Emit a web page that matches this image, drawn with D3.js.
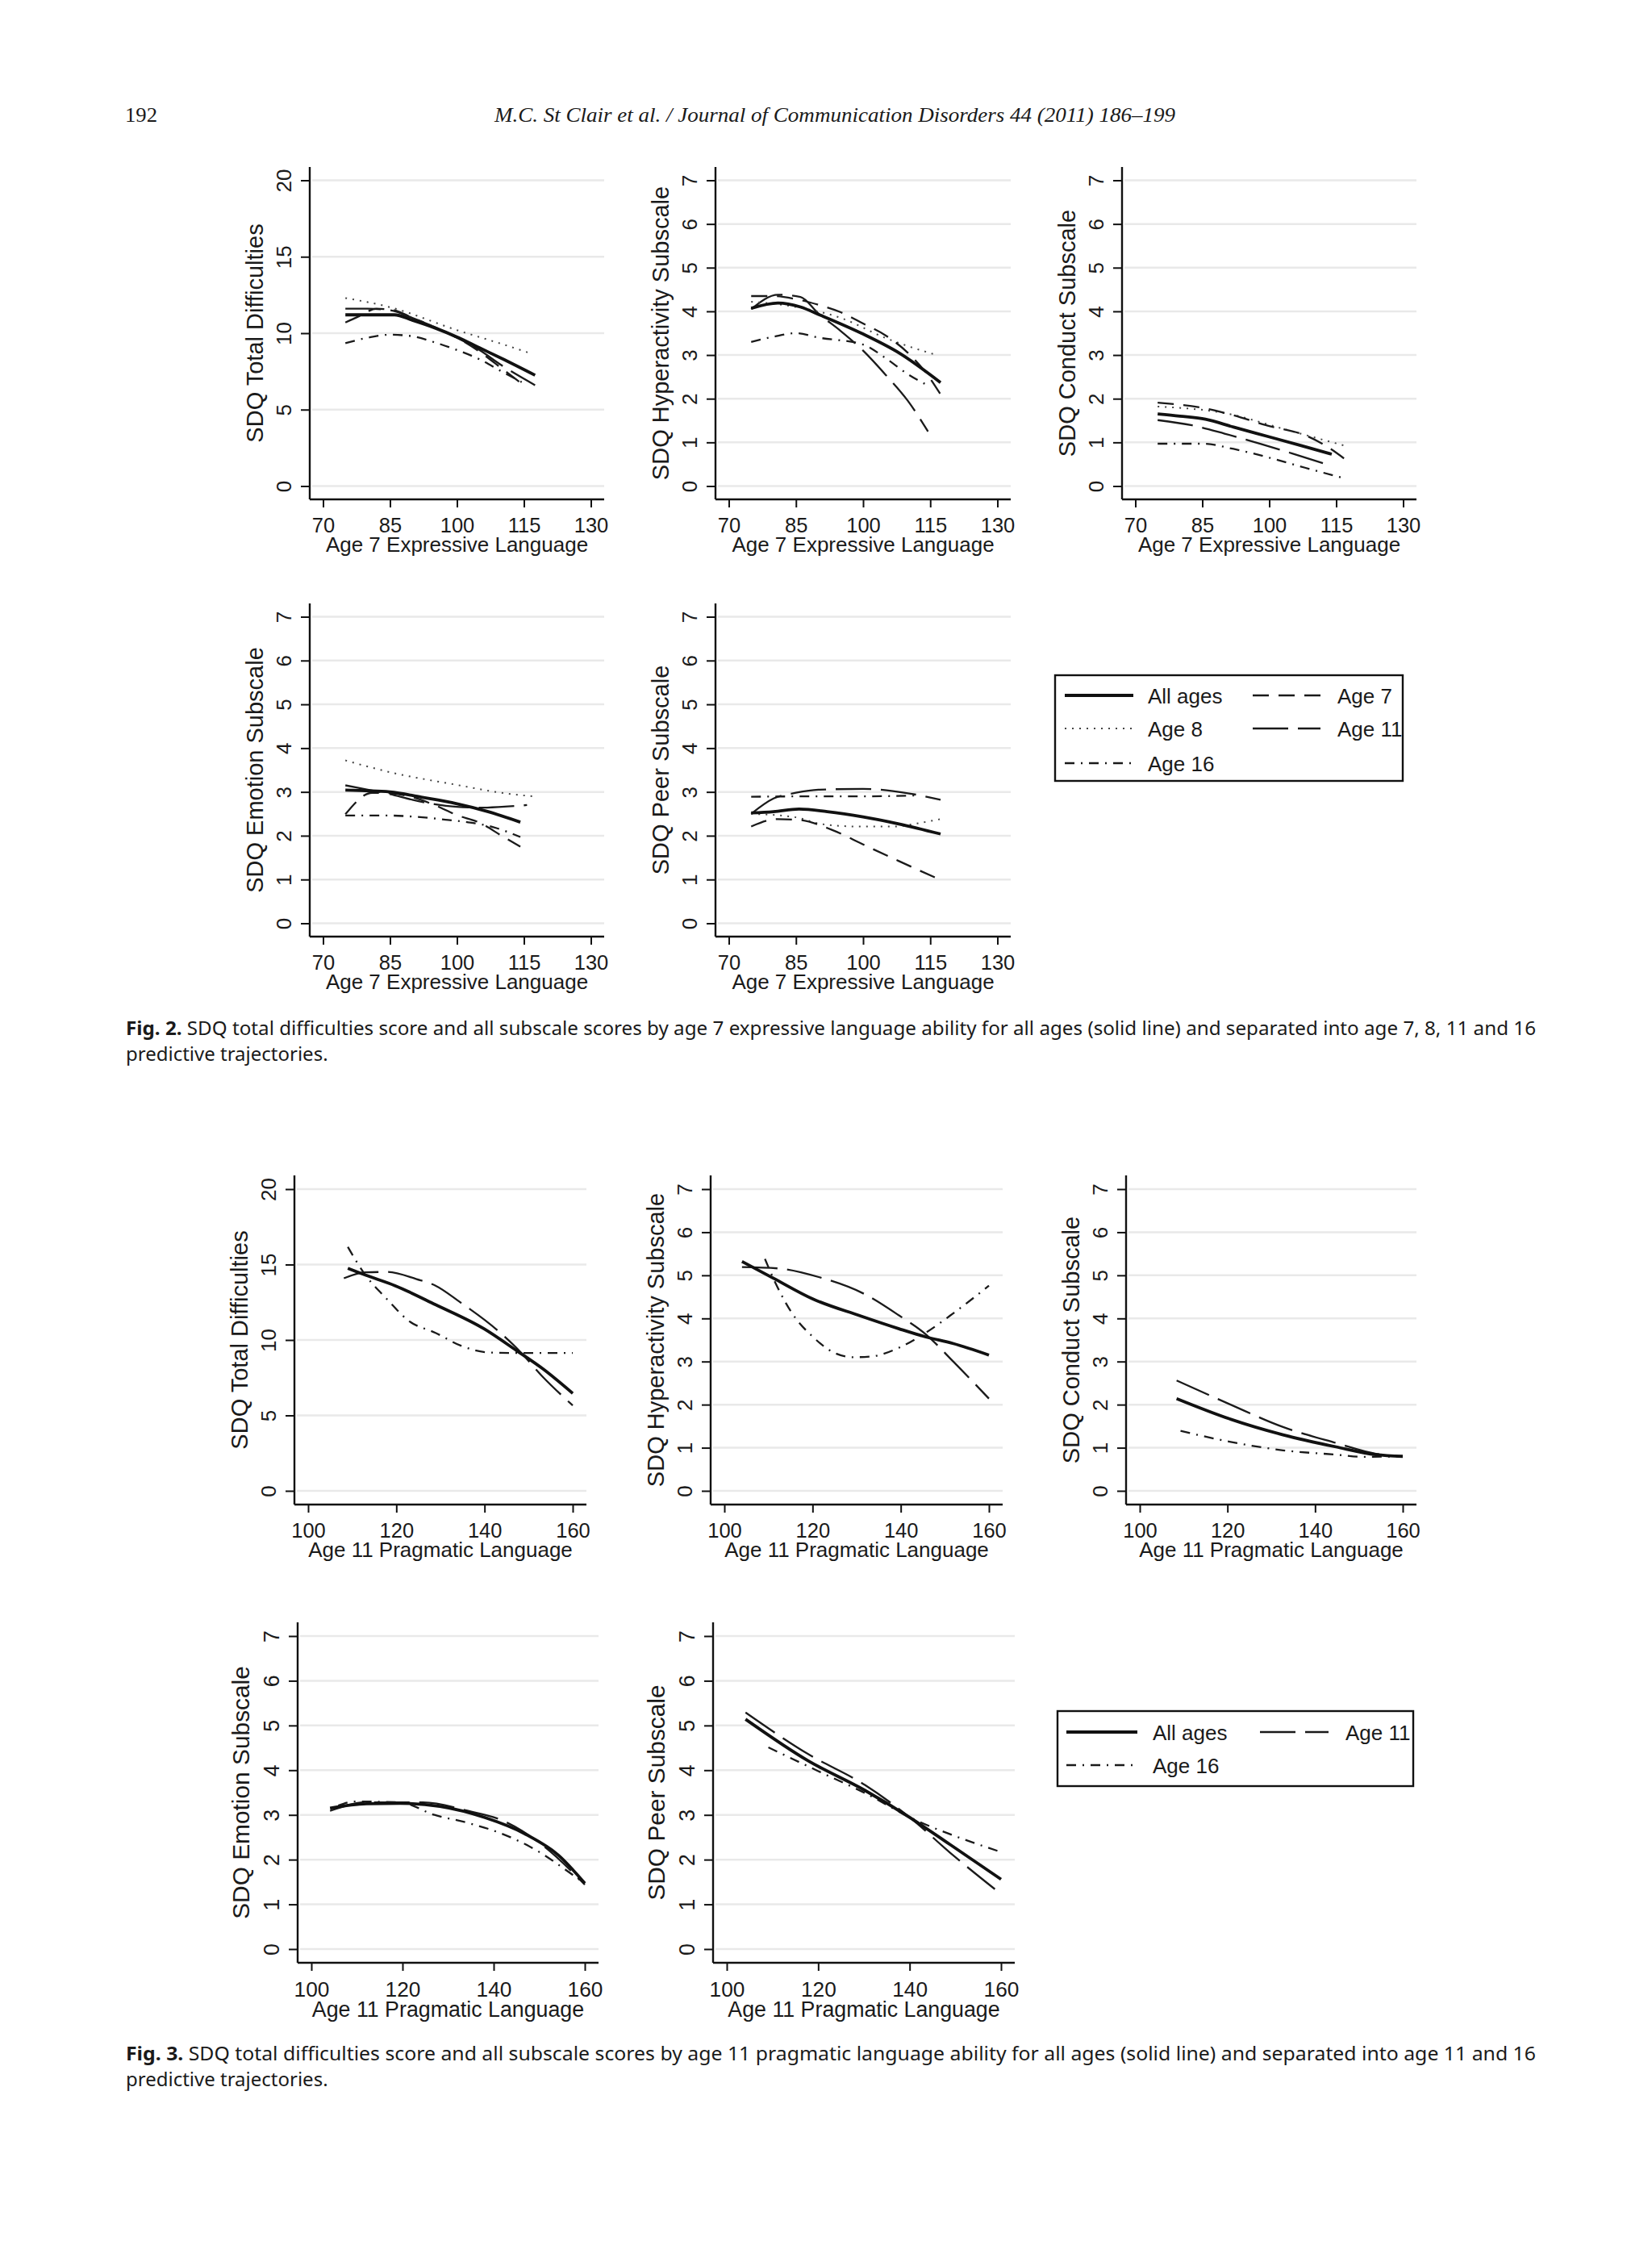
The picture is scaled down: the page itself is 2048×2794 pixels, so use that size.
<!DOCTYPE html>
<html>
<head>
<meta charset="utf-8">
<script src="https://cdn.jsdelivr.net/npm/d3@7"></script>
<style>
  body { margin: 0; background: #fff; }
  text { font-family: "Liberation Sans", Arial, sans-serif; fill: #1a1a1a; }
</style>
</head>
<body>
<script>
/*
*   SDQ scores by age 7 expressive and age 11 pragmatic language
*   values (Figs. 2 and 3)
*/

// tick labels
var fig2Xticks = [70, 85, 100, 115, 130];
var fig3Xticks = [100, 120, 140, 160];
var totalTicks = [0, 5, 10, 15, 20];
var subTicks = [0, 1, 2, 3, 4, 5, 6, 7];

// series names
var fig2Series = ["All ages", "Age 7", "Age 8", "Age 11", "Age 16"];
var fig3Series = ["All ages", "Age 11", "Age 16"];

// ---- Fig. 2 : [expressive language, score] ----
var f2TotalAll = [[75,11.2],[80,11.2],[86,11.2],[90,10.85],[95,10.35],[100,9.75],[105,9.05],[110,8.35],[117.5,7.25]];
var f2TotalA7  = [[75,10.7],[78,11.1],[82,11.6],[86,11.5],[90,11.0],[95,10.4],[100,9.7],[105,8.8],[110,7.7],[114.5,6.7]];
var f2TotalA8  = [[75,12.3],[85,11.7],[100,10.2],[110,9.3],[116.3,8.7]];
var f2TotalA11 = [[75,11.6],[80,11.6],[85,11.5],[90,11.0],[95,10.4],[100,9.7],[105,8.9],[110,7.9],[117.5,6.6]];
var f2TotalA16 = [[75,9.35],[80,9.7],[85,9.9],[90,9.8],[95,9.4],[100,8.9],[105,8.3],[110,7.5],[114.5,6.8]];

var f2HypAll = [[75,4.07],[81,4.19],[86,4.1],[90.5,3.91],[100,3.48],[108,3.05],[117.3,2.37]];
var f2HypA7  = [[75,4.35],[80,4.35],[85,4.28],[90,4.15],[95,3.98],[100,3.72],[105,3.45],[110,3.05],[114,2.6],[117.3,2.1]];
var f2HypA8  = [[75,4.22],[85,4.1],[95,3.85],[105,3.39],[116.4,3.0]];
var f2HypA11 = [[75,4.05],[81,4.38],[86,4.33],[90,3.95],[95,3.55],[100,3.1],[105,2.55],[110,1.95],[114.5,1.25]];
var f2HypA16 = [[75,3.3],[80,3.42],[85,3.5],[90,3.4],[100,3.24],[105,2.93],[110,2.56],[114.5,2.3]];

var f2ConAll = [[75,1.65],[80,1.6],[85.7,1.53],[92,1.35],[99.5,1.14],[107,0.93],[114,0.73]];
var f2ConA7  = [[75,1.91],[85,1.79],[92,1.62],[99,1.4],[108.6,1.14],[113,0.9],[117.3,0.59]];
var f2ConA8  = [[75,1.82],[90,1.67],[104.5,1.27],[116.7,0.93]];
var f2ConA11 = [[75,1.51],[82.7,1.39],[90,1.2],[98.3,0.96],[105,0.75],[112.8,0.5]];
var f2ConA16 = [[75,0.97],[85,0.97],[92,0.85],[100,0.65],[108,0.42],[116.7,0.18]];

var f2EmoAll = [[75,3.04],[85,3.0],[92,2.88],[100,2.73],[107,2.55],[114.2,2.31]];
var f2EmoA7  = [[75,2.49],[81,2.98],[85,2.97],[90,2.88],[95,2.7],[100,2.47],[105,2.3],[110,2.0],[114.2,1.75]];
var f2EmoA8  = [[75,3.72],[85,3.45],[100,3.16],[110,2.98],[116.9,2.9]];
var f2EmoA11 = [[75,3.15],[80,3.05],[85,2.95],[90,2.82],[95,2.72],[100,2.66],[105,2.64],[110,2.66],[115.7,2.7]];
var f2EmoA16 = [[75,2.46],[85,2.46],[91,2.43],[98,2.36],[103,2.3],[108,2.2],[114.2,1.97]];

var f2PeerAll = [[75,2.52],[80,2.55],[85.7,2.61],[92,2.55],[100,2.43],[108,2.27],[117.3,2.04]];
var f2PeerA7  = [[75,2.21],[80.9,2.38],[85.7,2.36],[92.9,2.14],[100,1.8],[108,1.42],[117.3,0.99]];
var f2PeerA8  = [[75,2.5],[85,2.42],[90.5,2.27],[99,2.21],[107,2.21],[112,2.28],[117.3,2.38]];
var f2PeerA11 = [[75,2.5],[80,2.85],[85,2.98],[90,3.05],[100,3.07],[110,2.97],[117.3,2.82]];
var f2PeerA16 = [[75,2.89],[90,2.9],[100,2.9],[112.8,2.92]];

// ---- Fig. 3 : [pragmatic language, score] ----
var f3TotalAll = [[109,14.75],[113,14.3],[119.7,13.6],[128.9,12.34],[139.9,10.74],[147.2,9.31],[153.3,8.07],[160,6.46]];
var f3TotalA11 = [[108.1,14.09],[113,14.48],[117.9,14.51],[124.6,14.03],[128.9,13.6],[134.4,12.52],[142.9,10.65],[147.2,9.49],[153.3,7.53],[160,5.66]];
var f3TotalA16 = [[109,16.17],[113,14.3],[117.9,12.7],[122.8,11.27],[128.9,10.47],[135,9.58],[141.1,9.17],[147.2,9.14],[160,9.14]];

var f3HypAll = [[104,5.32],[111,4.94],[120.1,4.45],[130.5,4.07],[139.6,3.76],[145.7,3.57],[151.8,3.42],[160,3.15]];
var f3HypA11 = [[104,5.19],[112.2,5.16],[121.4,4.96],[131.7,4.57],[139.6,4.07],[145.7,3.63],[151.8,3.01],[160,2.14]];
var f3HypA16 = [[109.2,5.38],[111.6,4.82],[115.3,4.13],[120.1,3.57],[125,3.2],[129.3,3.1],[133.5,3.12],[139.6,3.32],[145.7,3.67],[151.8,4.11],[160,4.76]];

var f3ConAll = [[108.4,2.14],[120.5,1.67],[132.7,1.3],[144.8,1.02],[153.9,0.84],[160,0.8]];
var f3ConA11 = [[108.4,2.56],[120.5,2.01],[132.7,1.48],[144.8,1.11],[153.9,0.86],[160,0.8]];
var f3ConA16 = [[109.3,1.39],[120.5,1.14],[132.7,0.94],[144.8,0.84],[150.9,0.79],[160,0.8]];

var f3EmoAll = [[104.1,3.15],[112.1,3.25],[119.5,3.26],[128.2,3.19],[138.1,2.94],[146.8,2.58],[154.2,2.1],[160,1.47]];
var f3EmoA11 = [[104.1,3.09],[112.1,3.28],[124.5,3.28],[134.4,3.09],[141.8,2.88],[150.5,2.34],[160,1.44]];
var f3EmoA16 = [[105.9,3.21],[109.6,3.3],[119.5,3.28],[127,3.0],[134.4,2.82],[141.8,2.58],[149.2,2.22],[157.9,1.62],[160,1.47]];

var f3PeerAll = [[104.1,5.14],[117.8,4.21],[130.2,3.55],[140.1,2.94],[148.8,2.34],[160,1.56]];
var f3PeerA11 = [[104.1,5.29],[117.8,4.36],[130.2,3.67],[140.1,2.94],[148.8,2.16],[160,1.23]];
var f3PeerA16 = [[109.1,4.51],[120.2,3.97],[130.2,3.49],[141.4,2.88],[150.1,2.52],[159.4,2.19]];

// line styles per series
var styles = {
    "All ages": { w: 3.8, dash: null, col: "#111" },
    "Age 7":    { w: 2.3, dash: "20,12", col: "#1a1a1a" },
    "Age 8":    { w: 2.0, dash: "2,7", col: "#444" },
    "Age 11":   { w: 2.3, dash: "44,12", col: "#1a1a1a" },
    "Age 16":   { w: 2.3, dash: "12,8,2,8", col: "#1a1a1a" }
};

var svg = d3.select("body").append("svg")
    .attr("width", 2048)
    .attr("height", 2794);

function drawPanel(p) {
    var k = p.k || 1;
    var g = svg.append("g");
    var yMax = p.yTicks[p.yTicks.length - 1];

    var x = d3.scaleLinear()
        .domain([p.xTicks[0], p.xTicks[p.xTicks.length - 1]])
        .range([p.left + p.pad, p.right - p.pad]);
    var y = d3.scaleLinear()
        .domain([0, yMax])
        .range([p.bottom - p.pad, p.top + p.pad]);

    // grid
    g.selectAll(".grid").data(p.yTicks).enter().append("line")
        .attr("x1", p.left + 3).attr("x2", p.right)
        .attr("y1", function(d){ return y(d); })
        .attr("y2", function(d){ return y(d); })
        .attr("stroke", "#e9e9e9")
        .attr("stroke-width", 2.5);

    // Y axis ticks + rotated labels
    var yAxis = g.append("g")
        .attr("transform", "translate(" + p.left + ",0)")
        .call(d3.axisLeft(y).tickValues(p.yTicks).tickFormat(d3.format("d"))
            .tickSize(11).tickSizeOuter(0));
    yAxis.attr("font-size", null).attr("font-family", null);
    yAxis.select(".domain").remove();
    yAxis.selectAll("line").attr("stroke", "#111").attr("stroke-width", 2);
    yAxis.selectAll("text")
        .attr("x", null).attr("dy", null)
        .attr("text-anchor", "middle")
        .attr("transform", "translate(-23,0) rotate(-90)")
        .style("font-size", (26 * k) + "px")
        .attr("fill", "#1a1a1a");

    // X axis
    var xAxis = g.append("g")
        .attr("transform", "translate(0," + p.bottom + ")")
        .call(d3.axisBottom(x).tickValues(p.xTicks).tickFormat(d3.format("d"))
            .tickSize(10).tickSizeOuter(0));
    xAxis.attr("font-size", null).attr("font-family", null);
    xAxis.select(".domain").remove();
    xAxis.selectAll("line").attr("stroke", "#111").attr("stroke-width", 2);
    xAxis.selectAll("text")
        .attr("y", 41 * k).attr("dy", null)
        .style("font-size", (25.5 * k) + "px")
        .attr("fill", "#1a1a1a");

    // axis lines
    g.append("line")
        .attr("x1", p.left).attr("x2", p.left)
        .attr("y1", p.top).attr("y2", p.bottom)
        .attr("stroke", "#111").attr("stroke-width", 2.4);
    g.append("line")
        .attr("x1", p.left).attr("x2", p.right)
        .attr("y1", p.bottom).attr("y2", p.bottom)
        .attr("stroke", "#111").attr("stroke-width", 2.4);

    // titles
    g.append("text")
        .attr("transform", "translate(" + (p.left - 58 * k) + "," + ((y(0) + y(yMax)) / 2) + ") rotate(-90)")
        .attr("text-anchor", "middle")
        .style("font-size", (29 * k) + "px")
        .text(p.yTitle);
    g.append("text")
        .attr("x", (x.range()[0] + x.range()[1]) / 2)
        .attr("y", p.bottom + 65 * k)
        .attr("text-anchor", "middle")
        .style("font-size", (26 * k) + "px")
        .text(p.xTitle);

    // lines
    var line = d3.line()
        .x(function(d){ return x(d[0]); })
        .y(function(d){ return y(d[1]); })
        .curve(d3.curveMonotoneX);

    p.series.slice().reverse().forEach(function(s) {
        var st = styles[s.name];
        g.append("path")
            .datum(s.data)
            .attr("fill", "none")
            .attr("stroke", st.col)
            .attr("stroke-width", st.w)
            .attr("stroke-dasharray", st.dash)
            .attr("d", line);
    });
}

function drawLegend(L) {
    var g = svg.append("g");
    g.append("rect")
        .attr("x", L.x0).attr("y", L.y0)
        .attr("width", L.x1 - L.x0).attr("height", L.y1 - L.y0)
        .attr("fill", "none").attr("stroke", "#111").attr("stroke-width", 2.4);
    L.items.forEach(function(name, i) {
        var col = i % 2, row = Math.floor(i / 2);
        var st = styles[name];
        var sx = L.sampleX[col], ry = L.rows[row];
        g.append("line")
            .attr("x1", sx[0]).attr("x2", sx[1])
            .attr("y1", ry).attr("y2", ry)
            .attr("stroke", st.col)
            .attr("stroke-width", st.w)
            .attr("stroke-dasharray", st.dash);
        g.append("text")
            .attr("x", L.labelX[col]).attr("y", ry + 9.5)
            .style("font-size", "26px")
            .text(name);
    });
}

function pick(names, arrs) {
    return names.map(function(n, i){ return { name: n, data: arrs[i] }; });
}

var xt2 = "Age 7 Expressive Language";
var xt3 = "Age 11 Pragmatic Language";

var panels = [
    // Fig. 2 row 1
    { left: 384, right: 749, top: 207, bottom: 619, pad: 16.5, xTicks: fig2Xticks, yTicks: totalTicks,
      yTitle: "SDQ Total Difficulties", xTitle: xt2,
      series: pick(fig2Series, [f2TotalAll, f2TotalA7, f2TotalA8, f2TotalA11, f2TotalA16]) },
    { left: 887, right: 1253, top: 207, bottom: 619, pad: 16.5, xTicks: fig2Xticks, yTicks: subTicks,
      yTitle: "SDQ Hyperactivity Subscale", xTitle: xt2,
      series: pick(fig2Series, [f2HypAll, f2HypA7, f2HypA8, f2HypA11, f2HypA16]) },
    { left: 1391, right: 1756, top: 207, bottom: 619, pad: 16.5, xTicks: fig2Xticks, yTicks: subTicks,
      yTitle: "SDQ Conduct Subscale", xTitle: xt2,
      series: pick(fig2Series, [f2ConAll, f2ConA7, f2ConA8, f2ConA11, f2ConA16]) },
    // Fig. 2 row 2
    { left: 384, right: 749, top: 748, bottom: 1161, pad: 16.5, xTicks: fig2Xticks, yTicks: subTicks,
      yTitle: "SDQ Emotion Subscale", xTitle: xt2,
      series: pick(fig2Series, [f2EmoAll, f2EmoA7, f2EmoA8, f2EmoA11, f2EmoA16]) },
    { left: 887, right: 1253, top: 748, bottom: 1161, pad: 16.5, xTicks: fig2Xticks, yTicks: subTicks,
      yTitle: "SDQ Peer Subscale", xTitle: xt2,
      series: pick(fig2Series, [f2PeerAll, f2PeerA7, f2PeerA8, f2PeerA11, f2PeerA16]) },
    // Fig. 3 row 1
    { left: 365, right: 727, top: 1457, bottom: 1865, pad: 17, xTicks: fig3Xticks, yTicks: totalTicks,
      yTitle: "SDQ Total Difficulties", xTitle: xt3,
      series: pick(fig3Series, [f3TotalAll, f3TotalA11, f3TotalA16]) },
    { left: 881, right: 1243, top: 1457, bottom: 1865, pad: 17, xTicks: fig3Xticks, yTicks: subTicks,
      yTitle: "SDQ Hyperactivity Subscale", xTitle: xt3,
      series: pick(fig3Series, [f3HypAll, f3HypA11, f3HypA16]) },
    { left: 1396, right: 1756, top: 1457, bottom: 1865, pad: 17, xTicks: fig3Xticks, yTicks: subTicks,
      yTitle: "SDQ Conduct Subscale", xTitle: xt3,
      series: pick(fig3Series, [f3ConAll, f3ConA11, f3ConA16]) },
    // Fig. 3 row 2 (drawn a little larger in the original)
    { left: 369, right: 742, top: 2011, bottom: 2433, pad: 17, k: 1.03, xTicks: fig3Xticks, yTicks: subTicks,
      yTitle: "SDQ Emotion Subscale", xTitle: xt3,
      series: pick(fig3Series, [f3EmoAll, f3EmoA11, f3EmoA16]) },
    { left: 884, right: 1258, top: 2011, bottom: 2433, pad: 17, k: 1.03, xTicks: fig3Xticks, yTicks: subTicks,
      yTitle: "SDQ Peer Subscale", xTitle: xt3,
      series: pick(fig3Series, [f3PeerAll, f3PeerA11, f3PeerA16]) }
];

panels.forEach(drawPanel);

// legends
drawLegend({ x0: 1308, y0: 837, x1: 1739, y1: 968,
    rows: [862, 903, 946], sampleX: [[1320, 1405], [1553, 1637]], labelX: [1423, 1658],
    items: ["All ages", "Age 7", "Age 8", "Age 11", "Age 16"] });
drawLegend({ x0: 1311, y0: 2121, x1: 1752, y1: 2214,
    rows: [2147, 2188], sampleX: [[1322, 1410], [1562, 1647]], labelX: [1429, 1668],
    items: ["All ages", "Age 11", "Age 16"] });

// page header
svg.append("text")
    .attr("x", 155).attr("y", 151)
    .attr("textLength", 40).attr("lengthAdjust", "spacingAndGlyphs")
    .style("font-family", "'Liberation Serif', serif")
    .style("font-size", "26px")
    .text("192");
svg.append("text")
    .attr("x", 613).attr("y", 151)
    .attr("textLength", 844).attr("lengthAdjust", "spacingAndGlyphs")
    .style("font-family", "'Liberation Serif', serif")
    .style("font-style", "italic")
    .style("font-size", "26px")
    .text("M.C. St Clair et al. / Journal of Communication Disorders 44 (2011) 186\u2013199");

// captions
function caption(y, fig, line1, line2) {
    var t = svg.append("text")
        .attr("x", 156).attr("y", y)
        .attr("textLength", 1748).attr("lengthAdjust", "spacingAndGlyphs")
        .style("font-family", "'Noto Sans', sans-serif")
        .style("font-size", "24px");
    t.append("tspan").style("font-weight", "bold").text(fig + " ");
    t.append("tspan").text(line1);
    svg.append("text")
        .attr("x", 156).attr("y", y + 32)
        .style("font-family", "'Noto Sans', sans-serif")
        .style("font-size", "24px")
        .text(line2);
}
caption(1283, "Fig. 2.",
    "SDQ total difficulties score and all subscale scores by age 7 expressive language ability for all ages (solid line) and separated into age 7, 8, 11 and 16",
    "predictive trajectories.");
caption(2554, "Fig. 3.",
    "SDQ total difficulties score and all subscale scores by age 11 pragmatic language ability for all ages (solid line) and separated into age 11 and 16",
    "predictive trajectories.");
</script>
</body>
</html>
